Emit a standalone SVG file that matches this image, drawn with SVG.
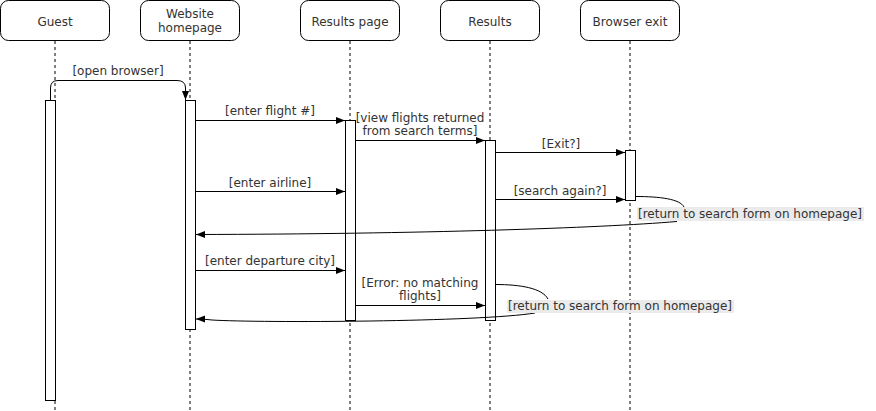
<svg xmlns="http://www.w3.org/2000/svg" width="876" height="411" viewBox="0 0 876 411">
<style>
text{font-family:"DejaVu Sans",Verdana,sans-serif;font-size:12px;fill:#333;text-anchor:middle}
.hdr{fill:#fff;stroke:#000;stroke-width:1}
.life{stroke:#000;stroke-width:1;stroke-dasharray:3 3;fill:none}
.act{fill:#fff;stroke:#000;stroke-width:1}
.msg{fill:none;stroke:#000;stroke-width:1;marker-end:url(#arr)}
.ret{fill:none;stroke:#000;stroke-width:1}
.lblbg{fill:#ebebeb}
</style>
<defs>
<marker id="arr" markerUnits="userSpaceOnUse" markerWidth="10" markerHeight="8" refX="9" refY="3.5" orient="auto">
<path d="M0,0 L9,3.5 L0,7 z" fill="#000"/>
</marker>
</defs>
<rect width="876" height="411" fill="#fff"/>
<g id="guest">
<rect class="hdr" x="0.5" y="0.5" width="109" height="40" rx="8"/>
<text x="55" y="26">Guest</text>
<line class="life" x1="55" y1="41" x2="55" y2="411"/>
<rect class="act" x="45.5" y="100.5" width="10" height="300"/>
</g>
<g id="website">
<rect class="hdr" x="140.5" y="0.5" width="99" height="40" rx="8"/>
<text x="190" y="18">Website</text>
<text x="190" y="32">homepage</text>
<line class="life" x1="190" y1="41" x2="190" y2="411"/>
<rect class="act" x="185.5" y="100.5" width="10" height="229"/>
</g>
<g id="resultspage">
<rect class="hdr" x="300.5" y="0.5" width="99" height="40" rx="8"/>
<text x="350" y="26">Results page</text>
<line class="life" x1="350" y1="41" x2="350" y2="411"/>
<rect class="act" x="345.5" y="120.5" width="10" height="200"/>
</g>
<g id="results">
<rect class="hdr" x="440.5" y="0.5" width="99" height="40" rx="8"/>
<text x="490" y="26">Results</text>
<line class="life" x1="490" y1="41" x2="490" y2="411"/>
<rect class="act" x="485.5" y="140.5" width="10" height="180"/>
</g>
<g id="browserexit">
<rect class="hdr" x="580.5" y="0.5" width="99" height="40" rx="8"/>
<text x="630" y="26">Browser exit</text>
<line class="life" x1="630" y1="41" x2="630" y2="411"/>
<rect class="act" x="625.5" y="150.5" width="10" height="50"/>
</g>
<g id="connectors">
<path class="msg" d="M50.5,100 L50.5,88 Q50.5,80.5 58,80.5 L177,80.5 Q185.5,80.5 185.5,88 L185.5,100"/>
<text x="118" y="75">[open browser]</text>
<path class="msg" d="M195.5,120.5 L345,120.5"/>
<text x="270" y="115">[enter flight #]</text>
<path class="msg" d="M355.5,140.5 L485,140.5"/>
<text x="420" y="122">[view flights returned</text>
<text x="420" y="135">from search terms]</text>
<path class="msg" d="M495.5,152.5 L625,152.5"/>
<text x="561" y="148">[Exit?]</text>
<path class="msg" d="M195.5,191.5 L345,191.5"/>
<text x="270" y="187">[enter airline]</text>
<path class="msg" d="M495.5,199.5 L625,199.5"/>
<text x="560" y="195">[search again?]</text>
<path class="ret" d="M635.5,196.5 C660,196.5 680,199 684,207"/>
<path class="msg" d="M677,221.5 C600,228 420,234 196,234.5"/>
<rect class="lblbg" x="637" y="207" width="227" height="14"/>
<text x="750" y="218">[return to search form on homepage]</text>
<path class="msg" d="M195.5,270.5 L345,270.5"/>
<text x="270" y="265">[enter departure city]</text>
<path class="msg" d="M355.5,305.5 L485,305.5"/>
<text x="420" y="287">[Error: no matching</text>
<text x="420" y="300">flights]</text>
<path class="ret" d="M495.5,284.5 C520,284.5 542,288 548,299"/>
<path class="msg" d="M535,313 C480,322 260,323 212,320 Q205,319 196,319"/>
<rect class="lblbg" x="507" y="300" width="227" height="13"/>
<text x="620" y="310">[return to search form on homepage]</text>
</g>
</svg>
